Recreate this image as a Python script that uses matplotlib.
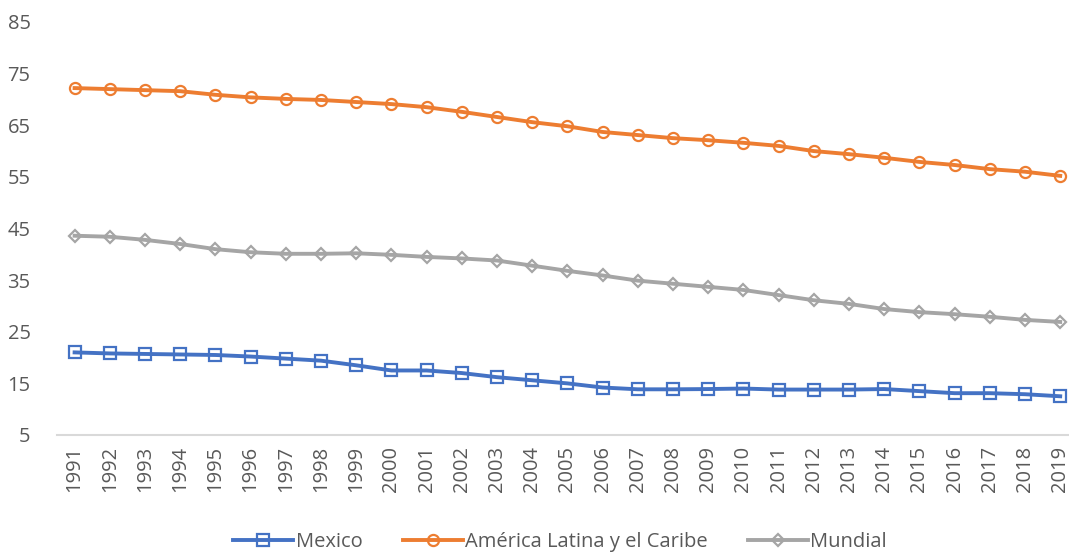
import matplotlib
matplotlib.use('Agg')
import matplotlib.pyplot as plt

plt.rcParams['font.family'] = ['Open Sans', 'DejaVu Sans']

years = list(range(1991, 2020))
mexico = [21.0, 20.8, 20.7, 20.6, 20.5, 20.2, 19.8, 19.4, 18.5, 17.5,
          17.5, 17.0, 16.2, 15.6, 15.0, 14.2, 13.85, 13.85, 13.9, 14.0,
          13.8, 13.8, 13.8, 13.9, 13.5, 13.1, 13.1, 12.9, 12.5]
latam = [72.2, 72.0, 71.8, 71.6, 70.9, 70.4, 70.1, 69.9, 69.5, 69.1,
         68.5, 67.6, 66.6, 65.6, 64.8, 63.7, 63.1, 62.5, 62.1, 61.6,
         61.0, 60.0, 59.4, 58.7, 57.9, 57.3, 56.5, 56.0, 55.2]
mundial = [43.6, 43.4, 42.8, 42.0, 41.0, 40.4, 40.1, 40.1, 40.2, 39.9,
           39.5, 39.2, 38.8, 37.8, 36.8, 35.9, 34.9, 34.3, 33.7, 33.1,
           32.1, 31.1, 30.4, 29.4, 28.8, 28.4, 27.9, 27.3, 26.9]

W, H = 1069, 552
fig = plt.figure(figsize=(W / 100, H / 100), dpi=100)
ax = fig.add_axes([57 / W, 1 - 435 / H, 1 - 57 / W, (435 - 22) / H])

ax.plot(years, mexico, color='#4472C4', lw=2.8, marker='s', ms=8, mfc='none',
        mew=1.6, label='Mexico')
ax.plot(years, latam, color='#ED7D31', lw=2.8, marker='o', ms=8, mfc='none',
        mew=1.6, label='América Latina y el Caribe')
ax.plot(years, mundial, color='#A5A5A5', lw=2.8, marker='D', ms=6.5, mfc='none',
        mew=1.6, label='Mundial')

ax.set_ylim(5, 85)
ax.set_yticks(range(5, 86, 10))
ax.set_xlim(1990.5, 1990.5 + (W - 57) / 35.2)
ax.set_xticks(years)
ax.set_xticklabels([str(y) for y in years], rotation=90)
ax.tick_params(axis='both', length=0, labelsize=14.5, colors='#595959')
ax.tick_params(axis='y', pad=19)
ax.tick_params(axis='x', pad=8)
for s in ['top', 'right', 'left']:
    ax.spines[s].set_visible(False)
ax.spines['bottom'].set_color('#D9D9D9')
ax.spines['bottom'].set_linewidth(1.5)

fig.legend(loc='center', bbox_to_anchor=(560 / W, 1 - 542 / H), ncol=3,
           frameon=False, fontsize=14.5, handlelength=3.0, columnspacing=2.0,
           handletextpad=0.1, labelcolor='#595959')

plt.savefig('out.png', dpi=100)
